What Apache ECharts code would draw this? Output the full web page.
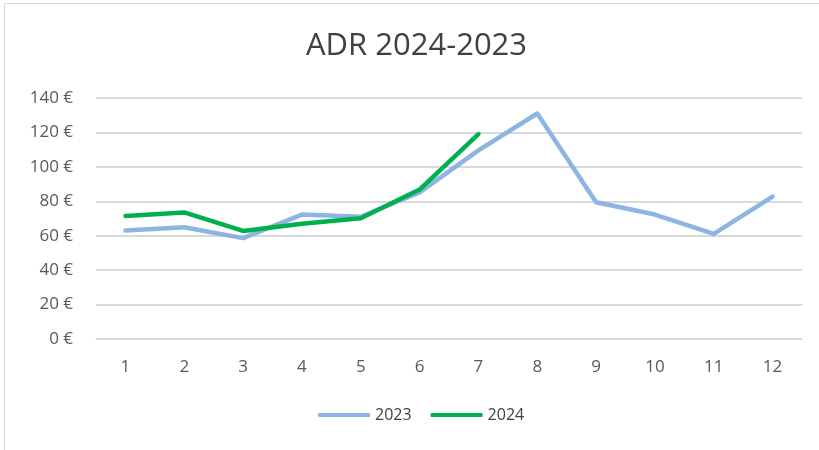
<!DOCTYPE html>
<html><head><meta charset="utf-8">
<script src="https://cdn.jsdelivr.net/npm/echarts@6/dist/echarts.min.js"></script>
<style>html,body{margin:0;padding:0;background:#fff}#c{width:819px;height:450px}</style>
</head><body><div id="c"></div>
<script>
const categories = ['1','2','3','4','5','6','7','8','9','10','11','12'];
const values2023 = [63.0, 64.9, 58.6, 72.3, 71.0, 85.2, 109.6, 131.0, 79.4, 72.3, 61.1, 82.7];
const values2024 = [71.5, 73.5, 62.8, 66.9, 70.2, 86.8, 119.0];
const seriesNames = ['2023', '2024'];
const yTicks = {min: 0, max: 140, interval: 20};

const font = '"Open Sans", Lato, sans-serif';
const chart = echarts.init(document.getElementById('c'), null, {renderer: 'canvas'});
chart.setOption({
  animation: false,
  backgroundColor: '#fff',
  graphic: [{type: 'rect', shape: {x: 4.5, y: 3.5, width: 900, height: 600},
    style: {fill: 'none', stroke: '#d9d9d9', lineWidth: 1}, silent: true}],
  title: {text: 'ADR 2024-2023', left: 301, top: 26,
    textStyle: {fontFamily: font, fontSize: 31, fontWeight: 'normal', color: '#404040'}},
  legend: {bottom: 22, left: 313, itemWidth: 52, itemHeight: 4, itemGap: 19,
    icon: 'roundRect',
    textStyle: {fontFamily: font, fontSize: 16, color: '#404040'},
    data: seriesNames},
  grid: {left: 96, right: 17, top: 98, bottom: 111, containLabel: false},
  xAxis: {type: 'category', data: categories, boundaryGap: true,
    axisLine: {show: true, lineStyle: {color: '#d9d9d9', width: 1}},
    axisTick: {show: false},
    axisLabel: {fontFamily: font, fontSize: 17, color: '#595959', margin: 20}},
  yAxis: {type: 'value', min: yTicks.min, max: yTicks.max, interval: yTicks.interval,
    axisLine: {show: false}, axisTick: {show: false},
    splitLine: {lineStyle: {color: '#d9d9d9', width: 2}},
    axisLabel: {fontFamily: font, fontSize: 17, color: '#595959', margin: 23,
      formatter: v => v + ' €'}},
  series: [
    {name: seriesNames[0], type: 'line', data: values2023, symbol: 'none',
      lineStyle: {color: '#8eb4e3', width: 4.5, cap: 'round', join: 'round'}, itemStyle: {color: '#8eb4e3'}},
    {name: seriesNames[1], type: 'line', data: values2024, symbol: 'none',
      lineStyle: {color: '#00b050', width: 4.5, cap: 'round', join: 'round'}, itemStyle: {color: '#00b050'}}
  ]
});
</script></body></html>
